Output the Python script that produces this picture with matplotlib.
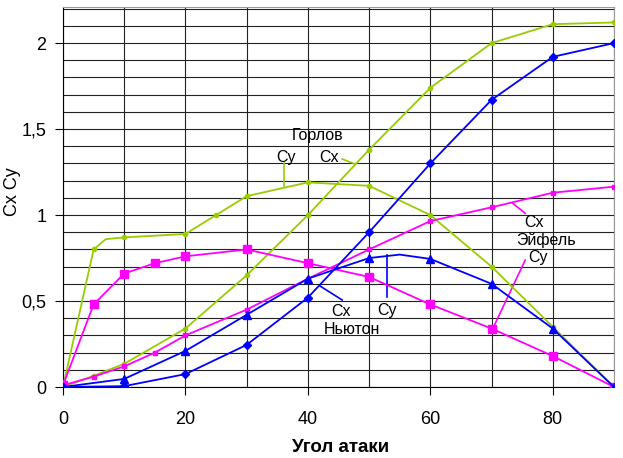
import numpy as np
import matplotlib
matplotlib.use('Agg')
import matplotlib.pyplot as plt
from matplotlib.ticker import MultipleLocator, FuncFormatter

plt.rcParams['font.family'] = ['Liberation Sans', 'DejaVu Sans']

# Горлов (x=7, no marker)
gorlov_cy_x = [0, 5, 7, 10, 20, 25, 30, 40, 50, 60, 70, 80, 90]
gorlov_cy = [0, 0.80, 0.86, 0.87, 0.89, 1.00, 1.11, 1.19, 1.17, 1.00, 0.70, 0.35, 0]
gorlov_cy_marks = [0, 1, 3, 4, 5, 6, 7, 8, 9, 10, 11, 12]
gorlov_cx_x = [0, 5, 10, 20, 30, 40, 50, 60, 70, 80, 90]
gorlov_cx = [0, 0.065, 0.135, 0.34, 0.65, 1.00, 1.38, 1.74, 2.00, 2.11, 2.12]

# Эйфель
eiffel_x = [0, 5, 10, 15, 20, 30, 40, 50, 60, 70, 80, 90]
eiffel_cy = [0.01, 0.48, 0.66, 0.72, 0.76, 0.80, 0.72, 0.64, 0.48, 0.34, 0.18, 0]
eiffel_cx = [0.01, 0.06, 0.12, 0.20, 0.30, 0.45, 0.63, 0.80, 0.965, 1.045, 1.13, 1.165]

# Ньютон (x=55, no marker)
newton_x = [0, 10, 20, 30, 40, 50, 60, 70, 80, 90]
newton_cx = [0, 0.005, 0.075, 0.245, 0.52, 0.90, 1.30, 1.67, 1.92, 2.00]
newton_cy_x = [0, 10, 20, 30, 40, 50, 55, 60, 70, 80, 90]
newton_cy = [0, 0.047, 0.21, 0.42, 0.63, 0.75, 0.77, 0.745, 0.60, 0.34, 0]
newton_cy_marks = [0, 1, 2, 3, 4, 5, 7, 8, 9, 10]

green = '#99CC00'
magenta = '#FF00FF'
blue = '#0000FF'

fig = plt.figure(figsize=(6.23, 4.58), dpi=100)
ax = fig.add_axes([63 / 623, 1 - 387 / 458, 551 / 623, 380 / 458])

ax.plot(gorlov_cy_x, gorlov_cy, color=green, lw=1.3, marker='o', ms=3,
        markevery=gorlov_cy_marks, zorder=3)
ax.plot(gorlov_cx_x, gorlov_cx, color=green, lw=1.3, marker='o', ms=3, zorder=3)
ax.plot(eiffel_x, eiffel_cx, color=magenta, lw=1.3, marker='s', ms=3, zorder=4)
ax.plot(eiffel_x, eiffel_cy, color=magenta, lw=1.3, marker='s', ms=5.5, zorder=4)
ax.plot(newton_x, newton_cx, color=blue, lw=1.3, marker='D', ms=4, zorder=5)
ax.plot(newton_cy_x, newton_cy, color=blue, lw=1.3, marker='^', ms=6,
        markevery=newton_cy_marks, zorder=5)

# подписи
fs = 11.5
ax.text(41.5, 1.46, 'Горлов', fontsize=fs, ha='center', va='center')
ax.text(36.4, 1.337, 'Су', fontsize=fs, ha='center', va='center')
ax.text(43.5, 1.337, 'Сх', fontsize=fs, ha='center', va='center')
ax.plot([36.1, 36.1], [1.30, 1.17], color=green, lw=1.2)
ax.plot([45.6, 47.7], [1.326, 1.297], color=green, lw=1.2)

ax.text(45.4, 0.442, 'Сх', fontsize=fs, ha='center', va='center')
ax.text(52.9, 0.442, 'Су', fontsize=fs, ha='center', va='center')
ax.text(47.2, 0.337, 'Ньютон', fontsize=fs, ha='center', va='center')
ax.plot([42.0, 45.6], [0.587, 0.506], color=blue, lw=1.2)
ax.plot([52.9, 52.9], [0.767, 0.523], color=blue, lw=1.2)

ax.text(77.0, 0.959, 'Сх', fontsize=fs, ha='center', va='center')
ax.text(78.9, 0.855, 'Эйфель', fontsize=fs, ha='center', va='center')
ax.text(77.6, 0.756, 'Су', fontsize=fs, ha='center', va='center')
ax.plot([73.4, 75.5], [1.07, 1.01], color=magenta, lw=1.2)
ax.plot([75.5, 70.4], [0.738, 0.355], color=magenta, lw=1.2)

ax.set_xlim(0, 90)
ax.set_ylim(0, 2.21)
ax.xaxis.set_major_locator(MultipleLocator(20))
ax.xaxis.set_minor_locator(MultipleLocator(10))
ax.yaxis.set_major_locator(MultipleLocator(0.5))
ax.yaxis.set_minor_locator(MultipleLocator(0.1))
ax.yaxis.set_major_formatter(FuncFormatter(lambda v, p: ('%g' % v).replace('.', ',')))
ax.grid(which='both', color='#222222', lw=0.8)
ax.set_axisbelow(True)
ax.tick_params(which='major', direction='out', length=6, width=0.8, labelsize=13)
ax.tick_params(axis='y', pad=6)
ax.tick_params(axis='x', pad=11)
ax.tick_params(which='minor', length=0)
for s in ['top', 'right']:
    ax.spines[s].set_color('#999999')

ax.set_xlabel('Угол атаки', fontsize=13.5, fontweight='bold', va='center')
ax.xaxis.set_label_coords(0.503, -0.158)
ax.set_ylabel('Сх Су', fontsize=13, va='center')
ax.yaxis.set_label_coords(-0.091, 0.514)

fig.savefig('out.png', dpi=100)
